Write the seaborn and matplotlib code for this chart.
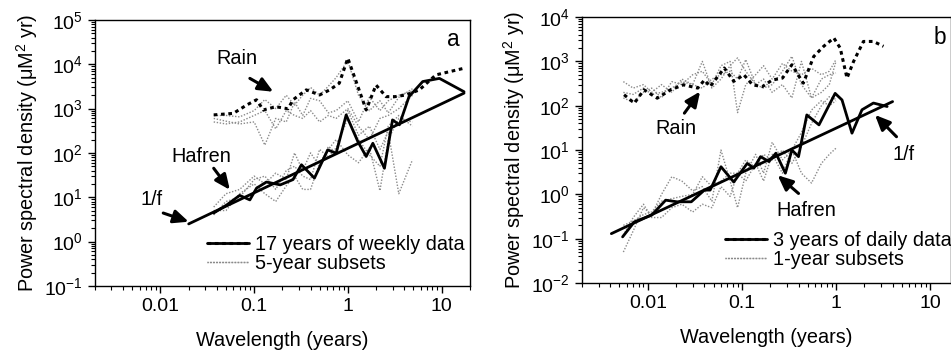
import numpy as np
import pandas as pd
import matplotlib
matplotlib.use("Agg")
import matplotlib.pyplot as plt
from matplotlib.lines import Line2D
from matplotlib.legend_handler import HandlerTuple
import seaborn as sns

# ---------------- data: panel a (17 years of weekly data) ----------------
a_haf_x = [0.037, 0.051, 0.07, 0.09, 0.106, 0.135, 0.19, 0.26, 0.32, 0.44, 0.61, 0.75,
           0.96, 1.28, 1.57, 1.85, 2.46, 3.0, 3.55, 4.5, 6.3, 9.5, 17.4]
a_haf_y = [4.4, 6.7, 11, 8.7, 16, 22, 19, 25, 54, 27, 117, 98,
           720, 180, 83, 165, 45, 555, 430, 1860, 4070, 4800, 2400]
a_rain_x = [0.037, 0.06, 0.083, 0.106, 0.125, 0.17, 0.23, 0.26, 0.36, 0.5, 0.64, 0.81,
            1.0, 1.28, 1.57, 2.0, 2.56, 3.2, 4.2, 5.8, 8.7, 17.4]
a_rain_y = [720, 780, 1200, 1580, 930, 1100, 990, 1580, 2640, 2030, 2640, 3730,
            13700, 3150, 930, 3400, 1860, 1860, 2030, 2640, 5750, 8130]
# 5-year subsets
a_sub_x = [0.037, 0.05, 0.07, 0.1, 0.13, 0.17, 0.22, 0.27, 0.33, 0.4, 0.5, 0.62, 0.75,
           1.0, 1.3, 1.7, 2.2, 2.7, 3.5, 4.9]
a_haf_s1 = [6, 12, 15, 30, 20, 35, 25, 100, 40, 100, 50, 140, 100, 900, 250, 400, 120, 300, 12, 70]
a_haf_s2 = [5, 5, 12, 20, 12, 8, 18, 30, 15, 15, 60, 120, 200, 90, 60, 130, 14, 200, 600, 500]
a_haf_s3 = [4, 8, 10, 25, 30, 15, 40, 50, 30, 25, 120, 80, 130, 600, 200, 90, 50, 400, 700, 400]
a_rain_s1 = [600, 520, 450, 500, 150, 600, 500, 1400, 700, 1700, 1500, 800, 900, 1500, 500, 1800, 900, 1500, 2000, 2500]
a_rain_s2 = [700, 700, 650, 900, 1600, 1000, 2000, 1200, 2000, 3000, 2000, 3200, 5000, 12000, 2000, 900, 1500, 800, 1800, 2800]
a_rain_s3 = [500, 450, 500, 700, 900, 350, 900, 700, 600, 900, 500, 700, 600, 1000, 400, 200, 600, 700, 1000, 2000]
a_fit_x = [0.02, 17.4]
a_fit_y = [2.5, 2230]

# ---------------- data: panel b (3 years of daily data) ----------------
b_haf_x = [0.0054, 0.0072, 0.011, 0.0155, 0.0205, 0.029, 0.04, 0.046, 0.06, 0.082, 0.114,
           0.134, 0.158, 0.194, 0.23, 0.29, 0.34, 0.40, 0.49, 0.66, 0.98, 1.16, 1.48,
           1.89, 2.5, 3.5]
b_haf_y = [0.11, 0.24, 0.34, 0.74, 0.68, 0.68, 1.25, 1.25, 4.2, 1.9, 5.0,
           3.9, 7.1, 5.5, 8.5, 3.0, 10, 7.1, 62, 37, 190, 135, 24,
           81, 115, 96]
b_rain_x = [0.0056, 0.0072, 0.0091, 0.0126, 0.0175, 0.024, 0.034, 0.04, 0.046, 0.065,
            0.082, 0.105, 0.13, 0.165, 0.21, 0.27, 0.34, 0.45, 0.58, 0.74, 0.95, 1.11,
            1.31, 1.54, 1.96, 2.5, 3.2]
b_rain_y = [177, 114, 229, 148, 229, 296, 250, 380, 270, 710,
            355, 500, 296, 270, 380, 420, 840, 323, 1290, 2190, 3380, 2000,
            420, 1000, 2820, 2820, 2190]
# 1-year subsets
b_sub_x = [0.0055, 0.007, 0.009, 0.011, 0.014, 0.018, 0.023, 0.03, 0.038, 0.048, 0.06, 0.075,
           0.09, 0.11, 0.14, 0.17, 0.21, 0.27, 0.34, 0.43, 0.55, 0.7, 0.85, 1.0]
b_haf_s1 = [0.05, 0.15, 0.5, 0.35, 1.0, 2.5, 2.0, 1.2, 1.5, 0.7, 10, 2.0, 0.5, 3, 8, 3, 15, 6, 10, 3, 1.8, 5, 8, 11]
b_haf_s2 = [0.12, 0.3, 0.6, 0.3, 0.3, 0.5, 0.6, 0.4, 0.6, 0.5, 1.5, 0.9, 3, 2, 5, 2, 8, 3, 10, 25, 80, 130, 100, 130]
b_haf_s3 = [0.2, 0.25, 0.35, 0.4, 0.7, 0.8, 0.9, 1.0, 2.5, 1.5, 2, 3, 3, 6, 4, 8, 6, 10, 5, 12, 40, 100, 160, 140]
b_rain_s1 = [350, 250, 300, 200, 300, 200, 400, 300, 1000, 250, 400, 800, 1200, 600, 300, 400, 200, 300, 150, 1000, 150, 200, 300, 1000]
b_rain_s2 = [150, 120, 200, 250, 150, 350, 300, 500, 600, 300, 800, 1000, 70, 300, 500, 800, 400, 900, 600, 500, 700, 500, 600, 1100]
b_rain_s3 = [200, 180, 250, 180, 200, 250, 350, 300, 250, 400, 500, 600, 400, 1100, 300, 250, 300, 600, 1300, 300, 150, 400, 500, 550]
b_fit_x = [0.0041, 4.0]
b_fit_y = [0.13, 124]

legend_a = ["17 years of weekly data", "5-year subsets"]
legend_b = ["3 years of daily data", "1-year subsets"]
xlabel = "Wavelength (years)"
ylabel = "Power spectral density (\u03bcM$^2$ yr)"

# ---------------- style ----------------
sns.set_style("ticks")
plt.rcParams["font.family"] = ["Liberation Sans", "DejaVu Sans"]
plt.rcParams["mathtext.fontset"] = "custom"
plt.rcParams["mathtext.rm"] = "Liberation Sans"
plt.rcParams["mathtext.it"] = "Liberation Sans:italic"
plt.rcParams["mathtext.default"] = "regular"
for k in ("text.color", "axes.labelcolor", "xtick.color", "ytick.color", "axes.edgecolor"):
    plt.rcParams[k] = "black"
FS = 14.3
TFS = 14

fig = plt.figure(figsize=(9.51, 3.56), dpi=100)
ax_a = fig.add_axes([0.0999, 0.197, 0.394, 0.747])
ax_b = fig.add_axes([0.612, 0.205, 0.388, 0.747])

GRAY = "#8a8a8a"


def draw(ax, x, y, **kw):
    sns.lineplot(x=x, y=y, ax=ax, estimator=None, sort=False, **kw)


def panel(ax, sub_x, haf_subs, rain_subs, haf_x, haf_y, rain_x, rain_y, fit_x, fit_y):
    for s in rain_subs + haf_subs:
        draw(ax, sub_x, s, color=GRAY, lw=1.0, linestyle=(0, (1, 1.2)))
    draw(ax, fit_x, fit_y, color="black", lw=2.0)
    draw(ax, haf_x, haf_y, color="black", lw=2.0)
    draw(ax, rain_x, rain_y, color="black", lw=2.2, linestyle=(0, (1.2, 1.2)))


panel(ax_a, a_sub_x, [a_haf_s1, a_haf_s2, a_haf_s3], [a_rain_s1, a_rain_s2, a_rain_s3],
      a_haf_x, a_haf_y, a_rain_x, a_rain_y, a_fit_x, a_fit_y)
panel(ax_b, b_sub_x, [b_haf_s1, b_haf_s2, b_haf_s3], [b_rain_s1, b_rain_s2, b_rain_s3],
      b_haf_x, b_haf_y, b_rain_x, b_rain_y, b_fit_x, b_fit_y)

for ax, ylim in ((ax_a, (1e-1, 1e5)), (ax_b, (1e-2, 1e4))):
    ax.set_xscale("log")
    ax.set_yscale("log")
    ax.set_ylim(*ylim)
    ax.set_xticks([0.01, 0.1, 1, 10])
    ax.set_xticklabels(["0.01", "0.1", "1", "10"])
    ax.xaxis.set_minor_locator(matplotlib.ticker.LogLocator(base=10, subs=np.arange(2, 10)))
    ax.xaxis.set_minor_formatter(matplotlib.ticker.NullFormatter())
    ax.yaxis.set_minor_locator(matplotlib.ticker.LogLocator(base=10, subs=np.arange(2, 10), numticks=20))
    ax.yaxis.set_minor_formatter(matplotlib.ticker.NullFormatter())
    ax.yaxis.set_major_locator(matplotlib.ticker.LogLocator(base=10, numticks=20))
    ax.yaxis.set_major_formatter(matplotlib.ticker.LogFormatterMathtext())
    ax.tick_params(which="major", direction="out", length=5, width=1, labelsize=TFS, colors="black")
    ax.tick_params(which="minor", direction="out", length=3, width=0.8, colors="black")
    for sp in ax.spines.values():
        sp.set_visible(True)
        sp.set_color("black")
        sp.set_linewidth(1.0)
    ax.set_xlabel(xlabel, fontsize=FS, labelpad=12)
    ax.set_ylabel(ylabel, fontsize=FS, labelpad=3)

ax_a.set_xlim(0.002, 20)
ax_b.set_xlim(0.002, 16.7)

ax_a.text(0.955, 0.925, "a", transform=ax_a.transAxes, fontsize=FS + 2, ha="center", va="center")
ax_b.text(0.97, 0.925, "b", transform=ax_b.transAxes, fontsize=FS + 2, ha="center", va="center")

arrow = dict(arrowstyle="-|>,head_length=0.9,head_width=0.4", color="black", lw=2.2,
             shrinkA=0, shrinkB=0)

# annotations panel a
ax_a.text(0.065, 13700, "Rain", fontsize=FS, ha="center", va="center")
ax_a.annotate("", xy=(0.16, 2400), xytext=(0.09, 4800), arrowprops=arrow)
ax_a.text(0.0275, 83, "Hafren", fontsize=FS, ha="center", va="center")
ax_a.annotate("", xy=(0.055, 14.7), xytext=(0.037, 45), arrowprops=arrow)
ax_a.text(0.0081, 8.7, "1/f", fontsize=FS, ha="center", va="center")
ax_a.annotate("", xy=(0.020, 2.8), xytext=(0.0107, 4.4), arrowprops=arrow)

# annotations panel b
ax_b.text(0.02, 31, "Rain", fontsize=FS, ha="center", va="center")
ax_b.annotate("", xy=(0.036, 209), xytext=(0.0245, 68), arrowprops=arrow)
ax_b.text(0.49, 0.44, "Hafren", fontsize=FS, ha="center", va="center")
ax_b.annotate("", xy=(0.24, 2.7), xytext=(0.40, 1.05), arrowprops=arrow)
ax_b.text(5.2, 7.8, "1/f", fontsize=FS, ha="center", va="center")
ax_b.annotate("", xy=(2.6, 62), xytext=(4.4, 20), arrowprops=arrow)


def add_legend(ax, labels, anchor):
    h_main = (Line2D([], [], color="black", lw=2.0),
              Line2D([], [], color="black", lw=2.2, linestyle=(0, (1.2, 1.2))))
    h_sub = (Line2D([], [], color=GRAY, lw=1.0, linestyle=(0, (1, 1.2))),
             Line2D([], [], color=GRAY, lw=1.0, linestyle=(0.5, (1, 1.2))))
    ax.legend([h_main, h_sub], labels, handler_map={tuple: HandlerTuple(ndivide=1)},
              loc="upper left", bbox_to_anchor=anchor, frameon=False, fontsize=FS,
              borderpad=0, borderaxespad=0, handlelength=2.1, handletextpad=0.3,
              labelspacing=0.0)


add_legend(ax_a, legend_a, (0.299, 0.19))
add_legend(ax_b, legend_b, (0.388, 0.195))

fig.savefig("out.png", dpi=100)
